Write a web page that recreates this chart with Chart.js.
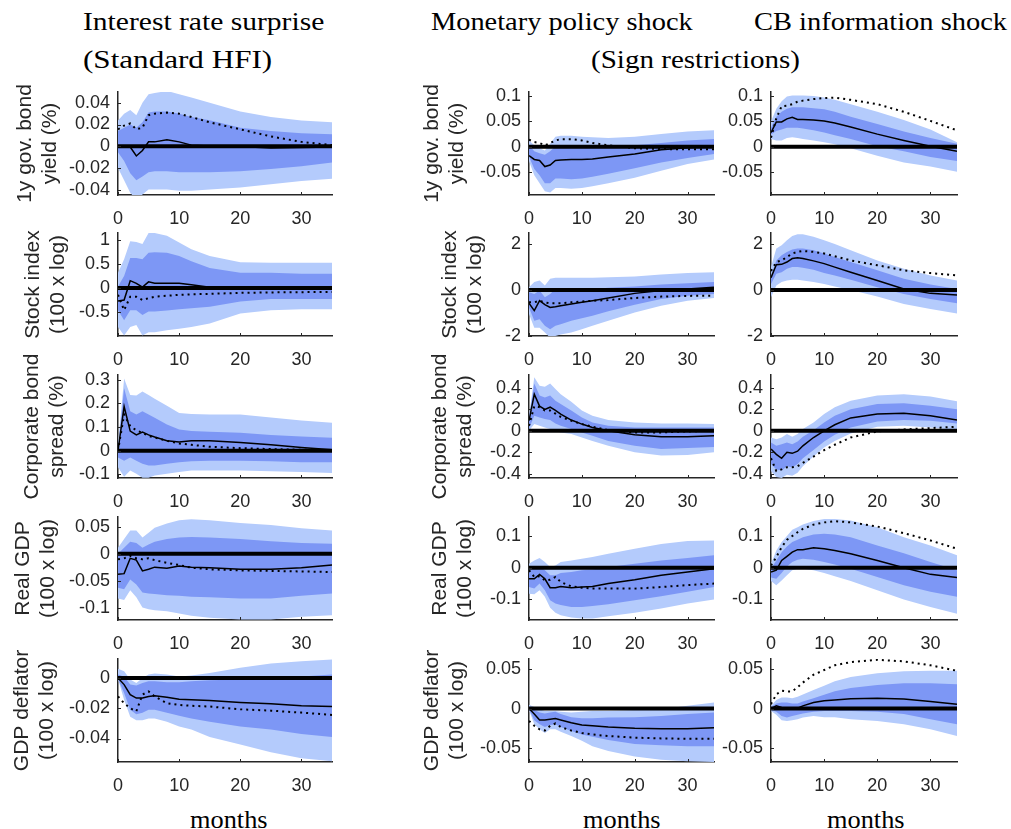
<!DOCTYPE html>
<html>
<head>
<meta charset="utf-8">
<script src="https://cdn.jsdelivr.net/npm/chart.js@4.4.0/dist/chart.umd.min.js"></script>
<style>
  body { margin: 0; background: #fff; }
  #fig { position: relative; width: 1011px; height: 829px; overflow: hidden; background: #fff; }
  #fig canvas { position: absolute; }
  .ttl { position: absolute; font-family: "Liberation Serif", "Times New Roman", serif; font-size: 26px;
         line-height: 30px; color: #000; white-space: nowrap; transform-origin: 0 50%; }
</style>
</head>
<body>
<div id="fig">
  <div class="ttl" data-x="83" data-y="22" data-w="241">Interest rate surprise</div>
  <div class="ttl" data-x="83" data-y="60" data-w="189">(Standard HFI)</div>
  <div class="ttl" data-x="431" data-y="22" data-w="262">Monetary policy shock</div>
  <div class="ttl" data-x="754" data-y="22" data-w="253">CB information shock</div>
  <div class="ttl" data-x="591" data-y="60" data-w="209">(Sign restrictions)</div>
  <div class="ttl" data-x="190" data-y="820" data-w="78">months</div>
  <div class="ttl" data-x="583" data-y="820" data-w="78">months</div>
  <div class="ttl" data-x="827" data-y="820" data-w="78">months</div>
</div>
<script>
// ================= DATA =================
// horizon (months) at which values were read off the picture
const months = [0, 1, 2, 3, 4, 5, 6, 8, 10, 12, 15, 20, 25, 30, 35];
const xTicks = [0, 10, 20, 30];

// ----- y ranges / ticks -----
const yieldRangeHfi = [-0.045, 0.05],   yieldTicksHfi = [-0.04, -0.02, 0, 0.02, 0.04];
const yieldRangeSign = [-0.095, 0.108], yieldTicksSign = [-0.05, 0, 0.05, 0.1];
const stockRangeHfi = [-1, 1.15],       stockTicksHfi = [-0.5, 0, 0.5, 1];
const stockRangeSign = [-2, 2.47],      stockTicksSign = [-2, 0, 2];
const spreadRangeHfi = [-0.115, 0.32],  spreadTicksHfi = [-0.1, 0, 0.1, 0.2, 0.3];
const spreadRangeSign = [-0.44, 0.52],  spreadTicksSign = [-0.4, -0.2, 0, 0.2, 0.4];
const gdpRangeHfi = [-0.123, 0.068],    gdpTicksHfi = [-0.1, -0.05, 0, 0.05];
const gdpRangeSign = [-0.165, 0.16],    gdpTicksSign = [-0.1, 0, 0.1];
const deflRangeHfi = [-0.0555, 0.0125], deflTicksHfi = [-0.04, -0.02, 0];
const deflRangeSign = [-0.068, 0.063],  deflTicksSign = [-0.05, 0, 0.05];

// ----- Interest rate surprise (standard HFI) -----
const hfiYieldOutHi = [0.0237, 0.030, 0.0335, 0.0286, 0.040, 0.048, 0.049, 0.051, 0.048, 0.045, 0.040, 0.032, 0.027, 0.0237, 0.022];
const hfiYieldOutLo = [-0.020, -0.0315, -0.043, -0.049, -0.0445, -0.040, -0.040, -0.040, -0.041, -0.041, -0.040, -0.038, -0.035, -0.032, -0.030];
const hfiYieldInHi = [0.014, 0.017, 0.020, 0.017, 0.022, 0.031, 0.032, 0.032, 0.030, 0.027, 0.024, 0.017, 0.014, 0.012, 0.011];
const hfiYieldInLo = [-0.0055, -0.0137, -0.025, -0.0315, -0.028, -0.024, -0.023, -0.023, -0.024, -0.024, -0.024, -0.023, -0.021, -0.0185, -0.015];
const hfiYieldMed = [0, 0, -0.0007, -0.009, -0.004, 0.004, 0.004, 0.006, 0.004, 0.001, 0.0003, -0.0003, -0.0016, -0.0013, -0.0007];
const hfiYieldAlt = [0.0156, 0.019, 0.021, 0.0156, 0.017, 0.0286, 0.030, 0.031, 0.030, 0.027, 0.022, 0.0156, 0.009, 0.004, 0.001];

const hfiStockOutHi = [0.32, 0.6, 0.98, 0.96, 0.92, 1.15, 1.15, 1.09, 0.95, 0.81, 0.67, 0.54, 0.53, 0.53, 0.53];
const hfiStockOutLo = [-0.81, -0.99, -0.81, -0.77, -0.99, -0.92, -0.92, -0.88, -0.85, -0.81, -0.74, -0.53, -0.46, -0.44, -0.44];
const hfiStockInHi = [0.035, 0.25, 0.63, 0.63, 0.6, 0.74, 0.75, 0.74, 0.67, 0.56, 0.42, 0.32, 0.32, 0.30, 0.30];
const hfiStockInLo = [-0.46, -0.67, -0.46, -0.46, -0.56, -0.49, -0.49, -0.47, -0.44, -0.42, -0.39, -0.28, -0.23, -0.23, -0.23];
const hfiStockMed = [-0.27, -0.25, 0.155, 0.1, 0.02, 0.13, 0.1, 0.1, 0.1, 0.07, 0.02, 0, 0, 0, 0];
const hfiStockAlt = [-0.14, -0.46, -0.18, -0.18, -0.25, -0.21, -0.18, -0.16, -0.14, -0.13, -0.12, -0.1, -0.09, -0.085, -0.08];

const hfiSpreadOutHi = [0.028, 0.305, 0.236, 0.233, 0.25, 0.236, 0.22, 0.19, 0.16, 0.155, 0.153, 0.153, 0.14, 0.128, 0.118];
const hfiSpreadOutLo = [-0.07, -0.11, -0.083, -0.097, -0.114, -0.114, -0.104, -0.097, -0.09, -0.083, -0.083, -0.083, -0.086, -0.09, -0.094];
const hfiSpreadInHi = [0.007, 0.264, 0.167, 0.153, 0.167, 0.153, 0.139, 0.111, 0.09, 0.083, 0.08, 0.076, 0.067, 0.06, 0.055];
const hfiSpreadInLo = [-0.028, -0.042, -0.028, -0.042, -0.055, -0.0625, -0.0625, -0.055, -0.049, -0.044, -0.042, -0.042, -0.044, -0.049, -0.049];
const hfiSpreadMed = [0, 0.187, 0.083, 0.067, 0.079, 0.067, 0.058, 0.042, 0.0375, 0.042, 0.042, 0.035, 0.025, 0.014, 0.004];
const hfiSpreadAlt = [0, 0.153, 0.104, 0.086, 0.076, 0.0625, 0.056, 0.042, 0.031, 0.025, 0.017, 0.011, 0.007, 0.004, 0.003];

const hfiGdpOutHi = [0.011, 0.027, 0.043, 0.043, 0.03, 0.039, 0.048, 0.056, 0.062, 0.064, 0.062, 0.057, 0.053, 0.047, 0.043];
const hfiGdpOutLo = [-0.083, -0.086, -0.068, -0.081, -0.1, -0.103, -0.105, -0.107, -0.111, -0.115, -0.119, -0.122, -0.122, -0.117, -0.114];
const hfiGdpInHi = [0, 0.011, 0.022, 0.02, 0.011, 0.017, 0.022, 0.027, 0.03, 0.031, 0.03, 0.027, 0.023, 0.02, 0.0185];
const hfiGdpInLo = [-0.063, -0.066, -0.048, -0.057, -0.072, -0.074, -0.075, -0.077, -0.078, -0.08, -0.081, -0.083, -0.083, -0.078, -0.074];
const hfiGdpMed = [-0.038, -0.037, -0.0086, -0.012, -0.032, -0.029, -0.025, -0.027, -0.023, -0.025, -0.026, -0.029, -0.029, -0.026, -0.021];
const hfiGdpAlt = [-0.0105, -0.0086, -0.004, -0.0086, -0.0105, -0.0086, -0.012, -0.017, -0.021, -0.026, -0.029, -0.031, -0.032, -0.033, -0.034];

const hfiDeflOutHi = [0.006, 0.0044, -0.001, -0.0033, 0, 0.0022, 0.0029, 0.0022, 0.001, 0.0016, 0.0033, 0.0067, 0.0096, 0.011, 0.0122];
const hfiDeflOutLo = [-0.0007, -0.0144, -0.0256, -0.028, -0.028, -0.0267, -0.0267, -0.029, -0.032, -0.034, -0.039, -0.044, -0.049, -0.053, -0.055];
const hfiDeflInHi = [0.0022, 0.0007, -0.0044, -0.005, -0.0033, -0.0022, -0.0022, -0.0029, -0.0029, -0.0022, -0.0016, -0.0011, 0, 0.001, 0.0022];
const hfiDeflInLo = [-0.0007, -0.01, -0.021, -0.024, -0.023, -0.021, -0.021, -0.023, -0.025, -0.0267, -0.029, -0.032, -0.034, -0.037, -0.039];
const hfiDeflMed = [0, -0.0044, -0.011, -0.0133, -0.0133, -0.0122, -0.0118, -0.0127, -0.014, -0.0144, -0.0149, -0.0162, -0.0171, -0.0184, -0.0189];
const hfiDeflAlt = [-0.0122, -0.0167, -0.02, -0.022, -0.011, -0.0089, -0.0122, -0.0167, -0.0178, -0.0184, -0.0189, -0.0207, -0.0216, -0.0229, -0.0244];

// ----- Monetary policy shock (sign restrictions) -----
const mpYieldOutHi = [0.0125, 0.003, -0.003, -0.0075, 0.006, 0.02, 0.022, 0.022, 0.02, 0.019, 0.0175, 0.02, 0.025, 0.03, 0.0325];
const mpYieldOutLo = [-0.028, -0.056, -0.072, -0.0875, -0.09, -0.081, -0.081, -0.0825, -0.081, -0.078, -0.072, -0.061, -0.047, -0.034, -0.025];
const mpYieldInHi = [0.003, -0.009, -0.0125, -0.0156, -0.009, 0.001, 0.003, 0.003, 0.001, 0.001, 0, 0.003, 0.0075, 0.0125, 0.0156];
const mpYieldInLo = [-0.019, -0.044, -0.056, -0.072, -0.072, -0.0625, -0.0625, -0.064, -0.0625, -0.059, -0.053, -0.0425, -0.031, -0.022, -0.014];
const mpYieldMed = [-0.0175, -0.025, -0.027, -0.039, -0.036, -0.027, -0.026, -0.025, -0.025, -0.024, -0.02, -0.014, -0.006, -0.002, 0.001];
const mpYieldAlt = [0.014, 0.0094, 0.0075, 0.003, 0.0075, 0.0125, 0.015, 0.015, 0.0125, 0.0075, 0.003, -0.003, -0.0044, -0.005, -0.005];

const mpStockOutHi = [0.12, 0.34, 0.41, 0.19, 0.48, 0.53, 0.53, 0.53, 0.53, 0.53, 0.55, 0.58, 0.67, 0.73, 0.77];
const mpStockOutLo = [-1.05, -1.64, -1.64, -1.85, -2.07, -2.0, -1.93, -1.85, -1.71, -1.56, -1.34, -0.98, -0.69, -0.47, -0.35];
const mpStockInHi = [-0.1, -0.18, -0.03, -0.32, -0.18, 0.04, 0.04, 0.04, 0.04, 0.04, 0.09, 0.15, 0.23, 0.29, 0.34];
const mpStockInLo = [-0.76, -1.34, -1.27, -1.56, -1.71, -1.56, -1.49, -1.34, -1.23, -1.12, -0.93, -0.64, -0.39, -0.25, -0.18];
const mpStockMed = [-0.58, -0.9, -0.47, -0.64, -0.76, -0.73, -0.69, -0.61, -0.54, -0.47, -0.35, -0.15, -0.03, 0.04, 0.12];
const mpStockAlt = [-0.54, -0.54, -0.47, -0.54, -0.58, -0.58, -0.58, -0.54, -0.5, -0.47, -0.44, -0.35, -0.29, -0.26, -0.25];

const mpSpreadOutHi = [0.14, 0.5, 0.42, 0.41, 0.44, 0.39, 0.34, 0.27, 0.19, 0.14, 0.1, 0.078, 0.069, 0.069, 0.0625];
const mpSpreadOutLo = [0, 0.0625, 0.047, 0.031, 0.016, 0, -0.016, -0.031, -0.0625, -0.094, -0.14, -0.2, -0.23, -0.225, -0.2];
const mpSpreadInHi = [0.12, 0.44, 0.33, 0.31, 0.33, 0.28, 0.25, 0.19, 0.125, 0.078, 0.047, 0.031, 0.031, 0.031, 0.031];
const mpSpreadInLo = [0.02, 0.14, 0.125, 0.11, 0.1, 0.069, 0.047, 0.016, -0.016, -0.047, -0.094, -0.14, -0.17, -0.16, -0.15];
const mpSpreadMed = [0.094, 0.34, 0.23, 0.2, 0.22, 0.19, 0.156, 0.1, 0.0625, 0.031, 0, -0.0375, -0.056, -0.056, -0.047];
const mpSpreadAlt = [0.047, 0.23, 0.22, 0.19, 0.19, 0.16, 0.13, 0.094, 0.0625, 0.0375, 0.006, -0.016, -0.016, -0.006, 0];

const mpGdpOutHi = [0.0125, 0.023, 0.031, 0.018, 0.002, 0.007, 0.018, 0.023, 0.028, 0.0335, 0.044, 0.06, 0.075, 0.084, 0.086];
const mpGdpOutLo = [-0.082, -0.084, -0.071, -0.092, -0.126, -0.142, -0.15, -0.157, -0.16, -0.16, -0.153, -0.142, -0.129, -0.113, -0.1];
const mpGdpInHi = [-0.008, -0.003, 0.004, -0.008, -0.024, -0.024, -0.017, -0.0136, -0.008, -0.006, 0.002, 0.0125, 0.023, 0.031, 0.039];
const mpGdpInLo = [-0.061, -0.066, -0.05, -0.071, -0.103, -0.113, -0.118, -0.124, -0.124, -0.121, -0.115, -0.103, -0.09, -0.076, -0.061];
const mpGdpMed = [-0.035, -0.035, -0.021, -0.035, -0.063, -0.063, -0.059, -0.063, -0.061, -0.059, -0.05, -0.038, -0.024, -0.0136, -0.003];
const mpGdpAlt = [-0.008, -0.029, -0.027, -0.04, -0.038, -0.029, -0.045, -0.059, -0.063, -0.066, -0.066, -0.066, -0.061, -0.055, -0.05];

const mpDeflOutHi = [0.0047, 0.002, -0.001, -0.003, -0.003, -0.003, -0.004, -0.005, -0.004, -0.003, -0.003, -0.002, -0.001, 0.0034, 0.0077];
const mpDeflOutLo = [-0.002, -0.02, -0.0265, -0.031, -0.0265, -0.0265, -0.0295, -0.035, -0.041, -0.048, -0.054, -0.061, -0.065, -0.067, -0.068];
const mpDeflInHi = [0.001, -0.002, -0.005, -0.0064, -0.005, -0.004, -0.007, -0.011, -0.0124, -0.0124, -0.0115, -0.011, -0.0094, -0.007, -0.005];
const mpDeflInLo = [-0.001, -0.015, -0.02, -0.0235, -0.021, -0.02, -0.0235, -0.0286, -0.033, -0.036, -0.04, -0.045, -0.0466, -0.048, -0.048];
const mpDeflMed = [0, -0.007, -0.0145, -0.0145, -0.0137, -0.0128, -0.0145, -0.018, -0.021, -0.022, -0.0235, -0.025, -0.0256, -0.0256, -0.0244];
const mpDeflAlt = [-0.0158, -0.022, -0.0265, -0.028, -0.022, -0.019, -0.0235, -0.028, -0.031, -0.033, -0.035, -0.037, -0.038, -0.0385, -0.0385];

// ----- CB information shock (sign restrictions) -----
const cbiYieldOutHi = [0.05, 0.075, 0.09, 0.099, 0.101, 0.101, 0.101, 0.1, 0.097, 0.0925, 0.084, 0.069, 0.053, 0.034, 0.009];
const cbiYieldOutLo = [0.0156, 0.0125, 0.0125, 0.0175, 0.019, 0.0175, 0.0156, 0.0125, 0.009, 0.005, -0.003, -0.0175, -0.031, -0.039, -0.049];
const cbiYieldInHi = [0.0375, 0.059, 0.069, 0.075, 0.078, 0.078, 0.078, 0.076, 0.074, 0.069, 0.059, 0.045, 0.03, 0.0175, 0.006];
const cbiYieldInLo = [0.024, 0.031, 0.034, 0.0375, 0.0375, 0.0375, 0.036, 0.0325, 0.028, 0.023, 0.0156, 0.001, -0.009, -0.02, -0.028];
const cbiYieldMed = [0.028, 0.049, 0.049, 0.055, 0.058, 0.054, 0.054, 0.053, 0.051, 0.047, 0.039, 0.025, 0.0125, 0.001, -0.009];
const cbiYieldAlt = [0.018, 0.056, 0.08, 0.081, 0.084, 0.089, 0.091, 0.094, 0.096, 0.097, 0.0925, 0.084, 0.069, 0.051, 0.0325];

const cbiStockOutHi = [0.99, 1.8, 1.94, 2.16, 2.34, 2.42, 2.42, 2.31, 2.16, 1.99, 1.72, 1.28, 0.92, 0.63, 0.41];
const cbiStockOutLo = [-0.32, 0.19, 0.34, 0.41, 0.44, 0.44, 0.41, 0.34, 0.26, 0.15, 0, -0.29, -0.61, -0.83, -1.02];
const cbiStockInHi = [0.63, 1.28, 1.5, 1.65, 1.75, 1.8, 1.8, 1.72, 1.58, 1.43, 1.21, 0.85, 0.48, 0.23, 0.04];
const cbiStockInLo = [0.26, 0.7, 0.77, 0.92, 0.99, 0.99, 0.96, 0.88, 0.73, 0.63, 0.44, 0.12, -0.18, -0.39, -0.58];
const cbiStockMed = [0.53, 1.09, 1.11, 1.21, 1.36, 1.4, 1.36, 1.26, 1.14, 0.99, 0.77, 0.41, 0.04, -0.15, -0.22];
const cbiStockAlt = [0.82, 1.21, 1.28, 1.43, 1.58, 1.65, 1.69, 1.65, 1.58, 1.46, 1.28, 1.07, 0.85, 0.73, 0.63];

const cbiSpreadOutHi = [-0.0625, -0.078, -0.0625, -0.031, -0.056, -0.031, 0.016, 0.078, 0.156, 0.22, 0.28, 0.33, 0.34, 0.32, 0.275];
const cbiSpreadOutLo = [-0.375, -0.43, -0.44, -0.41, -0.42, -0.39, -0.33, -0.24, -0.156, -0.094, -0.025, 0.0375, 0.047, 0.031, 0.006];
const cbiSpreadInHi = [-0.11, -0.14, -0.125, -0.11, -0.125, -0.1, -0.056, 0.006, 0.078, 0.14, 0.2, 0.25, 0.256, 0.234, 0.2];
const cbiSpreadInLo = [-0.31, -0.36, -0.37, -0.33, -0.34, -0.31, -0.256, -0.18, -0.1, -0.0375, 0.031, 0.0875, 0.1, 0.094, 0.069];
const cbiSpreadMed = [-0.17, -0.22, -0.256, -0.2, -0.21, -0.19, -0.14, -0.0625, 0, 0.056, 0.12, 0.156, 0.1625, 0.14, 0.1];
const cbiSpreadAlt = [-0.256, -0.375, -0.36, -0.34, -0.34, -0.33, -0.3, -0.24, -0.18, -0.13, -0.0625, -0.006, 0.0125, 0.025, 0.0375];

const cbiGdpOutHi = [0.0125, 0.054, 0.081, 0.1, 0.12, 0.128, 0.136, 0.147, 0.154, 0.154, 0.149, 0.128, 0.096, 0.07, 0.039];
const cbiGdpOutLo = [-0.042, -0.055, -0.04, -0.024, -0.008, -0.003, -0.003, -0.008, -0.017, -0.027, -0.042, -0.071, -0.1, -0.124, -0.145];
const cbiGdpInHi = [-0.003, 0.023, 0.049, 0.067, 0.081, 0.088, 0.096, 0.105, 0.107, 0.105, 0.096, 0.07, 0.046, 0.018, -0.008];
const cbiGdpInLo = [-0.031, -0.035, -0.017, 0.004, 0.018, 0.025, 0.028, 0.025, 0.018, 0.0105, -0.003, -0.029, -0.055, -0.076, -0.092];
const cbiGdpMed = [-0.0136, -0.008, 0.023, 0.036, 0.049, 0.057, 0.057, 0.063, 0.06, 0.054, 0.044, 0.023, 0, -0.021, -0.031];
const cbiGdpAlt = [0.007, 0.0335, 0.065, 0.088, 0.1, 0.112, 0.1225, 0.136, 0.143, 0.147, 0.143, 0.13, 0.109, 0.086, 0.06];

const cbiDeflOutHi = [0.0034, 0.0107, 0.014, 0.014, 0.013, 0.015, 0.018, 0.0235, 0.029, 0.0346, 0.04, 0.045, 0.0474, 0.048, 0.048];
const cbiDeflOutLo = [-0.003, -0.008, -0.015, -0.0158, -0.015, -0.0137, -0.0115, -0.0094, -0.011, -0.011, -0.0137, -0.0158, -0.02, -0.0265, -0.035];
const cbiDeflInHi = [0.002, 0.0064, 0.0077, 0.0077, 0.0064, 0.0064, 0.009, 0.013, 0.0175, 0.022, 0.026, 0.03, 0.032, 0.032, 0.031];
const cbiDeflInLo = [-0.002, -0.004, -0.0094, -0.0115, -0.0094, -0.008, -0.0064, -0.004, -0.003, -0.003, -0.003, -0.004, -0.007, -0.0137, -0.02];
const cbiDeflMed = [0, 0.0034, 0.0013, 0, 0, 0.0004, 0.0034, 0.0077, 0.0098, 0.011, 0.0124, 0.0132, 0.012, 0.009, 0.0056];
const cbiDeflAlt = [0.0056, 0.018, 0.0226, 0.0218, 0.0218, 0.027, 0.033, 0.043, 0.049, 0.055, 0.059, 0.062, 0.060, 0.055, 0.048];

// ----- axis titles (rows) -----
const rowLabels = [
  ["1y gov. bond", "yield (%)"],
  ["Stock index", "(100 x log)"],
  ["Corporate bond", "spread (%)"],
  ["Real GDP", "(100 x log)"],
  ["GDP deflator", "(100 x log)"]
];

// ================= PANEL TABLE =================
const S = (outHi, outLo, inHi, inLo, med, alt, range, ticks) => ({ outHi, outLo, inHi, inLo, med, alt, range, ticks });
const panels = [
  [S(hfiYieldOutHi, hfiYieldOutLo, hfiYieldInHi, hfiYieldInLo, hfiYieldMed, hfiYieldAlt, yieldRangeHfi, yieldTicksHfi),
   S(mpYieldOutHi, mpYieldOutLo, mpYieldInHi, mpYieldInLo, mpYieldMed, mpYieldAlt, yieldRangeSign, yieldTicksSign),
   S(cbiYieldOutHi, cbiYieldOutLo, cbiYieldInHi, cbiYieldInLo, cbiYieldMed, cbiYieldAlt, yieldRangeSign, yieldTicksSign)],
  [S(hfiStockOutHi, hfiStockOutLo, hfiStockInHi, hfiStockInLo, hfiStockMed, hfiStockAlt, stockRangeHfi, stockTicksHfi),
   S(mpStockOutHi, mpStockOutLo, mpStockInHi, mpStockInLo, mpStockMed, mpStockAlt, stockRangeSign, stockTicksSign),
   S(cbiStockOutHi, cbiStockOutLo, cbiStockInHi, cbiStockInLo, cbiStockMed, cbiStockAlt, stockRangeSign, stockTicksSign)],
  [S(hfiSpreadOutHi, hfiSpreadOutLo, hfiSpreadInHi, hfiSpreadInLo, hfiSpreadMed, hfiSpreadAlt, spreadRangeHfi, spreadTicksHfi),
   S(mpSpreadOutHi, mpSpreadOutLo, mpSpreadInHi, mpSpreadInLo, mpSpreadMed, mpSpreadAlt, spreadRangeSign, spreadTicksSign),
   S(cbiSpreadOutHi, cbiSpreadOutLo, cbiSpreadInHi, cbiSpreadInLo, cbiSpreadMed, cbiSpreadAlt, spreadRangeSign, spreadTicksSign)],
  [S(hfiGdpOutHi, hfiGdpOutLo, hfiGdpInHi, hfiGdpInLo, hfiGdpMed, hfiGdpAlt, gdpRangeHfi, gdpTicksHfi),
   S(mpGdpOutHi, mpGdpOutLo, mpGdpInHi, mpGdpInLo, mpGdpMed, mpGdpAlt, gdpRangeSign, gdpTicksSign),
   S(cbiGdpOutHi, cbiGdpOutLo, cbiGdpInHi, cbiGdpInLo, cbiGdpMed, cbiGdpAlt, gdpRangeSign, gdpTicksSign)],
  [S(hfiDeflOutHi, hfiDeflOutLo, hfiDeflInHi, hfiDeflInLo, hfiDeflMed, hfiDeflAlt, deflRangeHfi, deflTicksHfi),
   S(mpDeflOutHi, mpDeflOutLo, mpDeflInHi, mpDeflInLo, mpDeflMed, mpDeflAlt, deflRangeSign, deflTicksSign),
   S(cbiDeflOutHi, cbiDeflOutLo, cbiDeflInHi, cbiDeflInLo, cbiDeflMed, cbiDeflAlt, deflRangeSign, deflTicksSign)]
];

// ================= LAYOUT =================
const PLOT_LEFT = [118, 529, 771];
const PLOT_W = [214, 185, 186];
const PLOT_TOP = [92, 233, 375, 517, 659];
const PLOT_H = 103;
const YW = 118, TP = 34, XH = 38, RP = 14;
// centre of first y-title line, measured from canvas left
const TITLE_X = [[25, 33, 32, 23, 22], [21, 39, 29, 29, 21]];

const LIGHT = "#b4cbfc";
const DARK = "#7d97f5";
const AXIS = "#262626";

// ================= TITLES =================
document.querySelectorAll(".ttl").forEach(el => {
  el.style.left = el.dataset.x + "px";
  el.style.top = (el.dataset.y - 15) + "px";
  const w = el.offsetWidth;
  el.style.transform = "scaleX(" + (el.dataset.w / w) + ")";
});

// ================= PLUGIN: inward ticks =================
const inTicks = {
  id: "inTicks",
  afterDraw(chart) {
    const { ctx, chartArea: a, scales: { x, y } } = chart;
    ctx.save();
    ctx.strokeStyle = AXIS;
    ctx.lineWidth = 1;
    x.ticks.forEach(t => {
      const px = Math.round(x.getPixelForValue(t.value)) + 0.5;
      ctx.beginPath(); ctx.moveTo(px, a.bottom); ctx.lineTo(px, a.bottom - 3); ctx.stroke();
    });
    y.ticks.forEach(t => {
      const py = Math.round(y.getPixelForValue(t.value)) + 0.5;
      ctx.beginPath(); ctx.moveTo(a.left, py); ctx.lineTo(a.left + 3, py); ctx.stroke();
    });
    ctx.restore();
  }
};

const pts = arr => months.map((m, i) => ({ x: m, y: arr[i] }));
const fmt = v => String(Number(v.toFixed(4)));
const fig = document.getElementById("fig");

function makePanel(r, c) {
  const s = panels[r][c];
  const cv = document.createElement("canvas");
  const w = YW + PLOT_W[c] + RP;
  const h = TP + PLOT_H + XH;
  cv.width = w; cv.height = h;
  cv.style.left = (PLOT_LEFT[c] - YW) + "px";
  cv.style.top = (PLOT_TOP[r] - TP) + "px";
  fig.appendChild(cv);

  const band = (data, fill, color, order) => ({
    data: pts(data), fill: fill, backgroundColor: color, borderColor: "transparent",
    borderWidth: 0, pointRadius: 0, order: order
  });

  new Chart(cv, {
    type: "line",
    data: {
      datasets: [
        band(s.outHi, "+1", LIGHT, 6),
        band(s.outLo, false, LIGHT, 6),
        band(s.inHi, "+1", DARK, 5),
        band(s.inLo, false, DARK, 5),
        { data: [{ x: 0, y: 0 }, { x: 35, y: 0 }], borderColor: "#000", borderWidth: 4, pointRadius: 0, fill: false, order: 3 },
        { data: pts(s.med), borderColor: "#000", borderWidth: 1.5, pointRadius: 0, fill: false, order: 2 },
        { data: pts(s.alt), borderColor: "#000", borderWidth: 2, borderDash: [2, 4], pointRadius: 0, fill: false, order: 1 }
      ]
    },
    options: {
      responsive: false,
      animation: false,
      events: [],
      layout: { padding: { top: TP, right: RP, left: 0, bottom: 0 } },
      elements: { line: { tension: 0 } },
      plugins: { legend: { display: false }, tooltip: { enabled: false } },
      scales: {
        x: {
          type: "linear", min: 0, max: 35,
          afterBuildTicks: sc => { sc.ticks = xTicks.map(v => ({ value: v })); },
          afterFit: sc => { sc.height = XH; },
          grid: { display: false, drawTicks: false },
          border: { display: true, color: AXIS, width: 1.5 },
          ticks: { color: AXIS, padding: 13, maxRotation: 0, autoSkip: false, font: { family: "Liberation Sans", size: 18 }, callback: v => fmt(v) }
        },
        y: {
          type: "linear", min: s.range[0], max: s.range[1],
          afterBuildTicks: sc => { sc.ticks = s.ticks.map(v => ({ value: v })); },
          afterFit: sc => { sc.width = YW; },
          grid: { display: false, drawTicks: false },
          border: { display: true, color: AXIS, width: 1.5 },
          ticks: { color: AXIS, padding: 8, autoSkip: false, font: { family: "Liberation Sans", size: 18 }, callback: v => fmt(v) },
          title: {
            display: c < 2,
            text: rowLabels[r],
            color: AXIS,
            font: { family: "Liberation Sans", size: 21, lineHeight: 1.2 },
            padding: { top: c < 2 ? TITLE_X[c][r] - 12.6 : 0, bottom: 0 }
          }
        }
      }
    },
    plugins: [inTicks]
  });
}

for (let r = 0; r < 5; r++) {
  for (let c = 0; c < 3; c++) makePanel(r, c);
}
</script>
</body>
</html>
